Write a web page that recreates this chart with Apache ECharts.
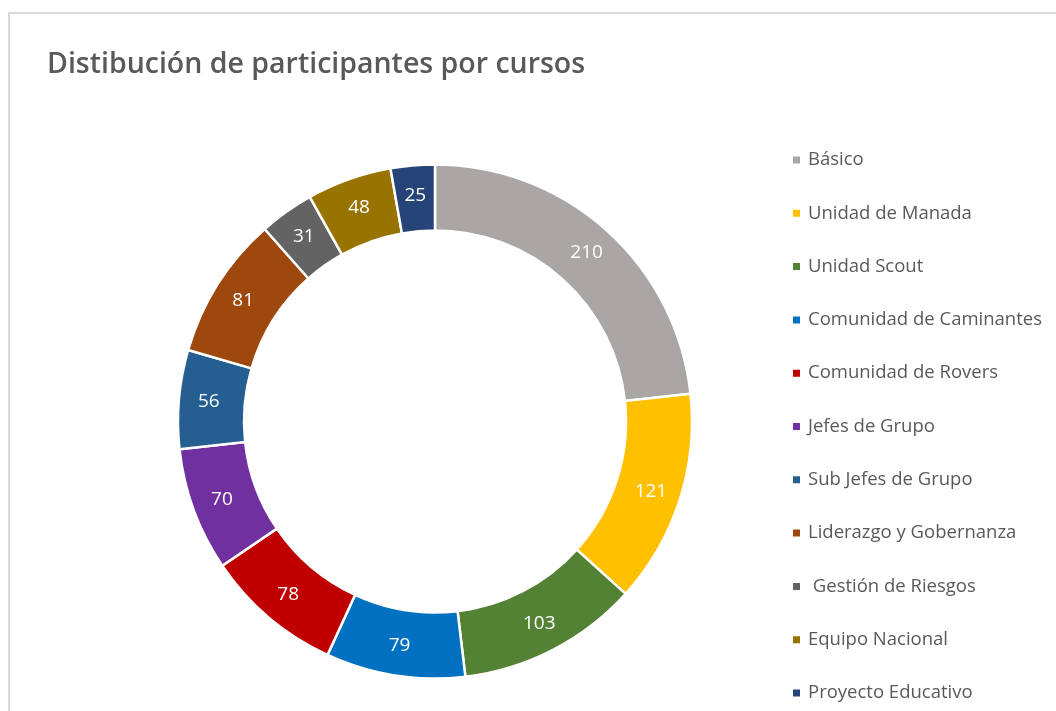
<!DOCTYPE html>
<html>
<head>
<meta charset="utf-8">
<script src="https://cdn.jsdelivr.net/npm/echarts@6/dist/echarts.min.js"></script>
<style>
html,body{margin:0;padding:0;background:#fff;}
#main{width:1056px;height:711px;}
</style>
</head>
<body>
<div id="main"></div>
<script>
const titleText = 'Distibución de participantes por cursos';
const categories = ['Básico','Unidad de Manada','Unidad Scout','Comunidad de Caminantes','Comunidad de Rovers','Jefes de Grupo','Sub Jefes de Grupo','Liderazgo y Gobernanza',' Gestión de Riesgos','Equipo Nacional','Proyecto Educativo'];
const values = [210,121,103,79,78,70,56,81,31,48,25];
const colors = ['#aaa6a5','#ffc000','#548235','#0070c0','#c00000','#7030a0','#255e91','#9e480e','#636363','#997300','#264478'];

const chart = echarts.init(document.getElementById('main'), null, {renderer:'canvas'});
const FONT = '"Open Sans", "Noto Sans", sans-serif';
chart.setOption({
  animation:false,
  color: colors,
  graphic:[{type:'rect', shape:{x:9,y:13,width:1100,height:750}, style:{fill:'none', stroke:'#d9d9d9', lineWidth:2}, silent:true}],
  title:{text:titleText, left:47, top:50, padding:0, textStyle:{fontFamily:FONT, fontWeight:600, fontSize:28.5, color:'#595959'}},
  legend:{
    orient:'vertical', left:791, top:149, padding:0, itemWidth:9, itemHeight:9, itemGap:31.3, icon:'rect',
    textStyle:{fontFamily:FONT, fontSize:18.5, color:'#595959', lineHeight:22, padding:[0,0,0,2]},
    data: categories
  },
  series:[{
    type:'pie', center:[435,421.5], radius:[191,257], startAngle:90, clockwise:true,
    itemStyle:{borderColor:'#fff', borderWidth:2.5},
    label:{show:true, position:'inside', color:'#fff', fontFamily:FONT, fontSize:19, formatter:'{c}'},
    labelLine:{show:false},
    emphasis:{disabled:true},
    data: categories.map((n,i)=>({name:n, value:values[i]}))
  }]
});
</script>
</body>
</html>
